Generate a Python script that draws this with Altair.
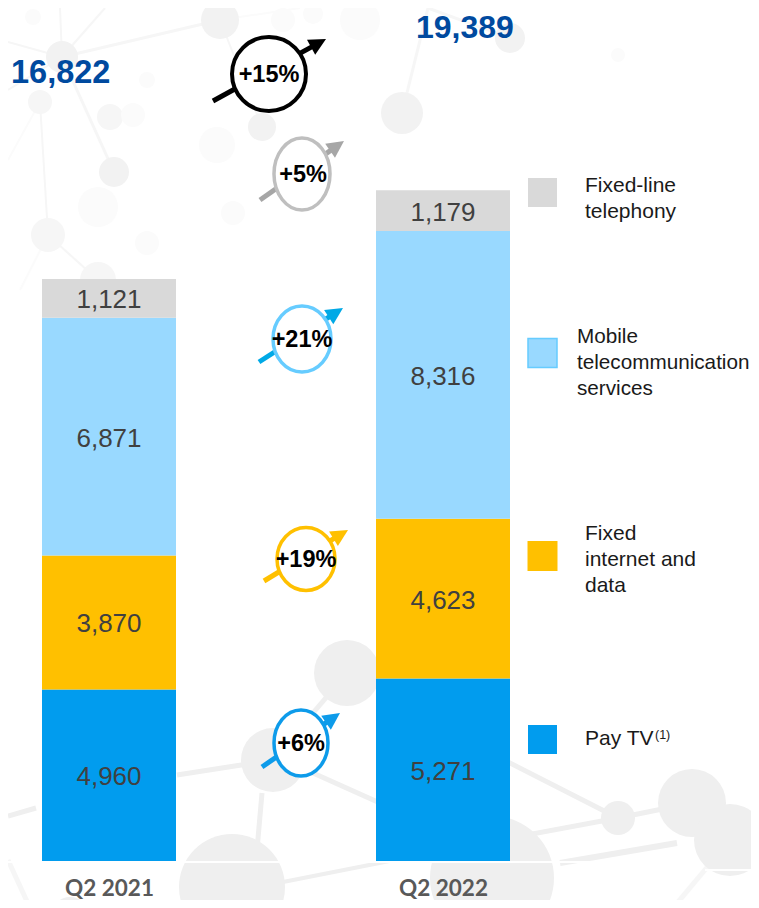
import math
import altair as alt
import pandas as pd

# ---- chart values ----
PERIODS = ["Q2 2021", "Q2 2022"]
SEGMENTS = ["Pay TV", "Fixed internet and data", "Mobile telecommunication services", "Fixed-line telephony"]
VALUES_2021 = [4960, 3870, 6871, 1121]
VALUES_2022 = [5271, 4623, 8316, 1179]
TOTALS = ["16,822", "19,389"]
GROWTH = ["+6%", "+19%", "+21%", "+5%", "+15%"]
COLOURS = ["#019CEE", "#FFC000", "#99D9FF", "#D9D9D9"]

# ---- layout ----
W, H = 743, 892
M = 8
BASE = 861 - M
K = 0.0346
FONT = "Liberation Sans"
ONE = alt.Data(values=[{"k": 0}])


def rule(x1, y1, x2, y2, color, width):
    return alt.Chart(ONE).mark_rule(color=color, strokeWidth=width, strokeCap="butt").encode(
        x=alt.value(x1 - M), y=alt.value(y1 - M), x2=alt.value(x2 - M), y2=alt.value(y2 - M))


def shape(cx, cy, path, size, angle=0, fill="#EEEEEE", stroke=None, sw=0):
    kw = dict(stroke=stroke, strokeWidth=sw) if stroke else dict(strokeWidth=0)
    return alt.Chart(ONE).mark_point(shape=path, size=size, angle=angle, filled=True, fill=fill,
                                     opacity=1, **kw).encode(
        x=alt.value(cx - M), y=alt.value(cy - M))


def text(x, y, s, size, color="#000000", align="center", bold=False, font=FONT, lh=None):
    kw = dict(lineBreak="\n", lineHeight=lh) if lh else {}
    return alt.Chart(ONE).mark_text(text=s, fontSize=size, color=color, align=align, baseline="middle",
                                    font=font, fontWeight="bold" if bold else "normal", **kw).encode(
        x=alt.value(x - M), y=alt.value(y - M))


def circle(cx, cy, r, fill="#EEEEEE"):
    return shape(cx, cy, "circle", 4 * r * r, fill=fill)


# ---- faint network backdrop ----
STRONG, MID, SOFT, PALE = "#EFEFEF", "#F2F2F2", "#F6F6F6", "#FBFBFB"
back = []
for seg in [
    (62, 57, 220, 20, SOFT, 3), (62, 57, 114, 172, SOFT, 3), (62, 57, 8, 42, SOFT, 2), (62, 57, 60, 8, SOFT, 2),
    (62, 57, 105, 8, SOFT, 2), (62, 57, 8, 90, SOFT, 2), (40, 102, 48, 235, SOFT, 2), (48, 235, 98, 280, SOFT, 2),
    (48, 235, 20, 290, PALE, 2), (220, 20, 262, 127, SOFT, 2), (220, 20, 300, 8, PALE, 2), (402, 113, 428, 8, SOFT, 3),
    (428, 8, 510, 38, SOFT, 3), (40, 102, 8, 160, PALE, 2),
    (177, 775, 273, 760, STRONG, 5), (273, 760, 347, 673, STRONG, 5), (313, 773, 400, 812, STRONG, 5),
    (262, 793, 257, 850, STRONG, 5), (283, 882, 420, 855, STRONG, 4),
    (500, 758, 618, 818, STRONG, 5), (500, 840, 618, 818, STRONG, 5), (618, 818, 692, 803, STRONG, 5),
    (560, 863, 677, 843, STRONG, 6), (730, 840, 673, 908, SOFT, 5),
    (36, 808, 8, 816, STRONG, 5), (8, 860, 30, 908, SOFT, 5),
]:
    back.append(rule(*seg))
for c in [
    (220, 20, 19, MID), (62, 57, 16, MID), (40, 102, 12, SOFT), (114, 172, 15, MID), (262, 127, 14, MID),
    (48, 235, 17, SOFT), (98, 280, 18, SOFT), (33, 17, 8, PALE), (110, 117, 13, SOFT), (133, 115, 12, PALE),
    (217, 145, 18, PALE), (98, 207, 20, PALE), (233, 213, 12, PALE), (147, 80, 8, PALE), (147, 243, 12, PALE),
    (402, 113, 21, MID), (510, 38, 15, MID), (618, 55, 7, PALE), (360, 20, 20, PALE), (313, 14, 10, PALE), (283, 20, 12, PALE),
    (347, 673, 33, STRONG), (273, 760, 32, STRONG), (232, 887, 53, STRONG), (618, 818, 17, STRONG), (692, 803, 34, STRONG),
    (730, 840, 36, STRONG), (492, 878, 62, STRONG), (70, 915, 18, STRONG),
]:
    back.append(circle(*c))
back.append(rule(8, 862, 700, 862, "#FFFFFF", 2))
back.append(rule(705, 870, 759, 870, "#FFFFFF", 2))

# ---- bars ----
rows = []
for period, vals in zip(PERIODS, [VALUES_2021, VALUES_2022]):
    base = 0
    for i, (seg, v) in enumerate(zip(SEGMENTS, vals)):
        rows.append({"period": period, "segment": seg, "value": v, "rank": i, "mid": base + v / 2,
                     "label": f"{v:,}"})
        base += v
df = pd.DataFrame(rows)

y_scale = alt.Scale(domain=[(BASE - H) / K, BASE / K], nice=False, zero=False)
x_scale = alt.Scale(type="point", domain=PERIODS, range=[109 - M, 443 - M], padding=0)
x_axis = alt.Axis(title=None, labelAngle=0, domain=False, ticks=False, grid=False, offset=BASE - H, zindex=1,
                  labelFont="Lato", labelFontWeight="bold", labelFontSize=22.5, labelColor="#595959", labelPadding=16)

bars = alt.Chart(df).mark_bar(size=134, stroke=None).encode(
    x=alt.X("period:N", scale=x_scale, axis=x_axis),
    y=alt.Y("value:Q", stack="zero", scale=y_scale, axis=None),
    color=alt.Color("segment:N", scale=alt.Scale(domain=SEGMENTS, range=COLOURS), legend=None),
    order=alt.Order("rank:Q"),
)
labels = alt.Chart(df).mark_text(font=FONT, fontSize=26, color="#404040", dy=2).encode(
    x=alt.X("period:N", scale=x_scale, axis=x_axis),
    y=alt.Y("mid:Q", scale=y_scale, axis=None),
    text="label:N",
)

# ---- growth badges ----
HEAD = "M 0 -1 L 1 1 L -1 1 Z"


def badge(label, cx, cy, rx, ry, ring, arrow, sw, tail, tip, tx=None):
    ang = math.atan2(tip[0] - tail[0], tail[1] - tip[1])
    hx, hy = tip[0] - 8.5 * math.sin(ang), tip[1] + 8.5 * math.cos(ang)
    big = max(rx, ry)
    a, b = rx / big, ry / big
    path = f"M {-a:.3f} 0 A {a:.3f} {b:.3f} 0 1 1 {a:.3f} 0 A {a:.3f} {b:.3f} 0 1 1 {-a:.3f} 0 Z"
    return [
        rule(tail[0], tail[1], hx, hy, arrow, 5),
        shape(hx, hy, HEAD, 17 * 17, angle=math.degrees(ang), fill=arrow),
        shape(cx, cy, path, 4 * big * big, fill="#FFFFFF", stroke=ring, sw=sw),
        text(tx or cx, cy + 1, label, 23.5, bold=True),
    ]


badges = (
    badge(GROWTH[4], 269, 74, 37, 37, "#000000", "#000000", 4, (213, 101), (326, 39))
    + badge(GROWTH[3], 302, 174, 28, 36, "#BFBFBF", "#A6A6A6", 3.5, (260, 200), (344, 141), tx=303)
    + badge(GROWTH[2], 302, 339, 29, 33, "#66CCFF", "#00A9E6", 3.5, (259, 362), (343, 308))
    + badge(GROWTH[1], 306, 559, 29, 31.5, "#FFC000", "#FFC000", 3.5, (264, 581), (348, 530))
    + badge(GROWTH[0], 301, 743, 27, 33, "#0D9BEA", "#0D9BEA", 3.5, (262, 767), (340, 713))
)

# ---- totals ----
totals = [
    text(11, 73, TOTALS[0], 32.5, color="#004A9F", align="left", bold=True),
    text(416, 28, TOTALS[1], 32, color="#004A9F", align="left", bold=True),
]

# ---- legend ----
legend = [
    shape(542.5, 192.5, "square", 29 * 29, fill=COLOURS[3]),
    shape(542.5, 353, "square", 29 * 29, fill=COLOURS[2], stroke="#66CCFF", sw=1.5),
    shape(542.5, 556, "square", 30 * 30, fill=COLOURS[1]),
    shape(542.5, 739.5, "square", 29 * 29, fill=COLOURS[0]),
    text(585, 186, "Fixed-line\ntelephony", 21, color="#1A1A1A", align="left", lh=26),
    text(577, 337, "Mobile\ntelecommunication\nservices", 20.7, color="#1A1A1A", align="left", lh=26),
    text(585, 534, "Fixed\ninternet and\ndata", 21, color="#1A1A1A", align="left", lh=26),
    text(585, 739, "Pay TV", 21, color="#1A1A1A", align="left"),
    text(655, 735, "(1)", 12.5, color="#1A1A1A", align="left"),
]

chart = alt.layer(*back, bars, labels, *badges, *totals, *legend).properties(
    width=W, height=H, padding=0, autosize=alt.AutoSizeParams(type="none"), background="#FFFFFF",
).configure_view(stroke=None)

chart.save("out.html", embed_options={"renderer": "svg", "actions": False})
